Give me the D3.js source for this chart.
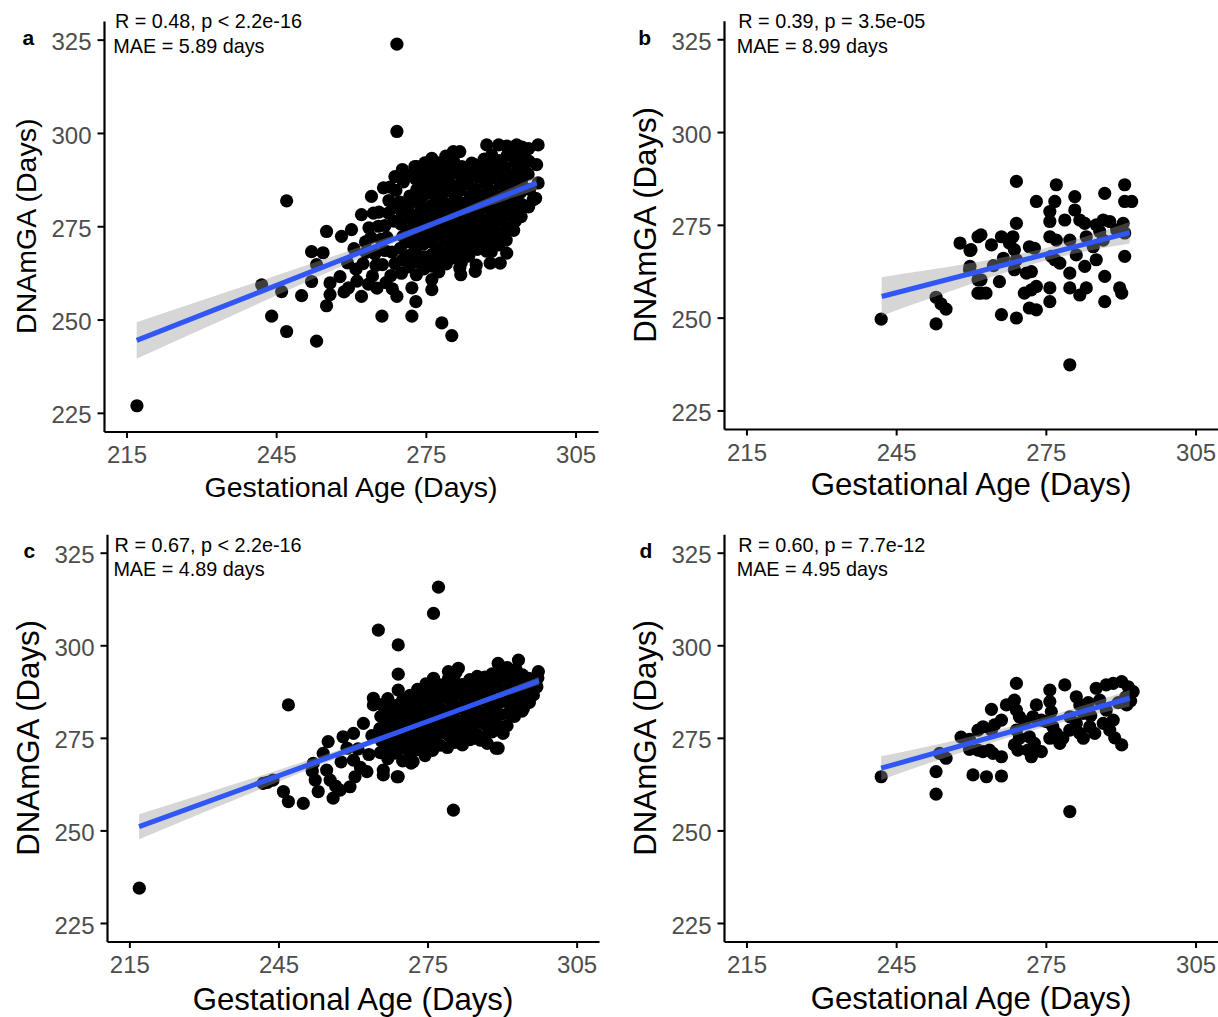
<!DOCTYPE html>
<html>
<head>
<meta charset="utf-8">
<script src="https://cdn.jsdelivr.net/npm/d3@7"></script>
<style>
  html, body { margin: 0; padding: 0; background: #fff; }
  svg { display: block; font-family: "Liberation Sans", Arial, Helvetica, sans-serif; }
</style>
</head>
<body>
<svg id="chart" width="1218" height="1017"></svg>
<script>
// Axis ticks shared by all four panels
const xTicks = [215, 245, 275, 305];
const yTicks = [225, 250, 275, 300, 325];
const xLimits = [215, 305];
const yLimits = [225, 325];

// Correlation / error annotations per panel
const panelLetters = ["a", "b", "c", "d"];
const statLines = [
  ["R = 0.48, p < 2.2e-16", "MAE = 5.89 days"],
  ["R = 0.39, p = 3.5e-05", "MAE = 8.99 days"],
  ["R = 0.67, p < 2.2e-16", "MAE = 4.89 days"],
  ["R = 0.60, p = 7.7e-12", "MAE = 4.95 days"]
];

// Samples: [gestational age, DNAmGA]
const pointsA = [
  [217.1,226.9],[242.1,259.3],[244.1,250.9],[246.1,257.5],[247.1,246.8],[247.1,281.8],
  [250.1,256.4],[252.1,260.2],[252.1,268.2],[253.1,244.2],[253.1,264.7],[254.4,267.9],
  [255.1,253.7],[255.1,273.6],[255.8,259.8],[255.8,256.7],[257.8,261.5],[258.1,272.3],
  [258.6,257.4],[259.3,265.2],[260.1,274.1],[260.6,269.0],[261.2,260.3],[262.1,278.1],
  [262.1,256.2],[262.4,265.0],[262.9,270.8],[263.6,274.6],[264.1,283.0],[264.3,261.7],
  [264.8,267.6],[265.2,258.4],[265.6,278.8],[266.2,250.9],[266.0,271.5],[266.3,264.7],
  [266.5,285.3],[266.8,275.2],[267.6,281.9],[268.0,261.8],[268.2,268.1],[268.3,258.2],
  [268.8,288.3],[268.6,276.4],[269.2,323.8],[269.2,300.4],[269.2,256.2],[269.0,284.6],
  [272.2,250.9],[272.2,258.5],[273.0,254.8],[276.2,260.7],[276.2,258.0],[278.2,249.1],
  [280.2,245.7],[282.0,262.0],[284.9,262.9],[281.8,263.8],[287.9,265.1],[289.9,265.1],
  [291.2,267.8],[287.2,268.3],[292.9,276.3],[296.5,282.1],[297.5,286.6],[287.2,296.8],
  [289.6,296.8],[293.2,296.8],[297.5,296.8],[280.5,295.0],[281.8,295.0],[276.2,293.2],
  [272.8,291.0],[288.2,293.2],[284.2,291.9],[273.2,291.0],
  [263.0,268.0],[264.0,272.0],[265.0,264.5],[265.5,275.0],[266.8,268.5],[267.2,272.0],
  [267.5,278.5],[268.8,265.0],[268.5,280.0],[263.5,259.5],[267.0,259.9],[261.0,263.5],
  [259.5,258.5],[264.5,278.5],[267.8,285.5],
  [270.1,262.4],[270.3,265.9],[269.9,269.1],[270.4,272.3],[270.0,275.6],[270.2,278.7],[269.8,281.5],[270.5,286.9],[270.3,290.2],
  [271.6,264.1],[271.8,267.2],[271.5,270.8],[271.7,273.9],[271.9,277.2],[271.4,280.3],[271.8,283.1],[271.6,288.6],
  [273.1,262.0],[273.3,265.4],[272.9,268.6],[273.2,271.9],[273.0,275.0],[273.4,278.3],[273.1,281.6],[273.2,284.9],[272.9,287.8],
  [274.6,263.6],[274.8,266.8],[274.5,270.2],[274.7,273.5],[274.6,276.7],[274.9,279.9],[274.5,283.2],[274.7,286.3],[274.6,289.4],[274.8,292.0],
  [276.1,264.3],[276.3,267.5],[276.0,270.8],[276.2,274.1],[276.4,277.3],[276.1,280.5],[276.0,283.8],[276.3,287.0],[276.2,290.1],
  [277.6,262.8],[277.8,266.1],[277.5,269.3],[277.7,272.6],[277.9,275.8],[277.6,279.0],[277.4,282.3],[277.8,285.5],[277.7,288.8],[277.5,292.0],
  [279.1,264.9],[279.3,268.0],[279.0,271.3],[279.2,274.6],[279.4,277.8],[279.1,281.0],[278.9,284.3],[279.3,287.5],[279.2,290.6],[279.0,293.8],
  [280.6,266.5],[280.8,269.7],[280.5,273.0],[280.7,276.2],[280.6,279.5],[280.9,282.7],[280.4,285.9],[280.7,289.2],[280.6,292.3],
  [282.1,265.2],[282.3,268.4],[282.0,271.6],[282.2,274.9],[282.4,278.1],[282.1,281.3],[281.9,284.6],[282.3,287.8],[282.2,291.0],
  [283.6,267.0],[283.8,270.2],[283.5,273.4],[283.7,276.7],[283.6,279.9],[283.9,283.1],[283.4,286.4],[283.7,289.6],
  [285.1,264.6],[285.3,268.8],[285.0,272.1],[285.2,275.3],[285.4,278.6],[285.1,281.8],[284.9,285.0],[285.3,288.3],[285.2,291.4],
  [286.6,270.4],[286.8,273.6],[286.5,276.8],[286.7,280.1],[286.6,283.3],[286.9,286.5],[286.4,289.8],[286.7,293.0],
  [288.1,268.2],[288.3,271.5],[288.0,274.7],[288.2,278.0],[288.4,281.2],[288.1,284.4],[287.9,287.7],[288.3,290.9],[288.2,294.1],
  [289.6,270.0],[289.8,273.2],[289.5,276.5],[289.7,279.7],[289.6,282.9],[289.9,286.2],[289.4,289.4],[289.7,292.6],
  [291.1,271.3],[291.3,274.6],[291.0,277.8],[291.2,281.0],[291.4,284.3],[291.1,287.5],[290.9,290.7],[291.3,294.0],[291.2,296.5],
  [292.6,273.9],[292.8,279.2],[292.5,282.4],[292.7,285.7],[292.6,288.9],[292.9,292.1],[292.4,295.3],
  [294.1,277.6],[294.3,280.8],[294.0,284.1],[294.2,287.3],[294.4,290.5],[294.1,293.8],[294.3,296.2],
  [295.6,280.2],[295.8,284.9],[295.5,289.0],[295.7,292.4],[295.6,295.8],
  [297.0,282.5],[297.2,291.5]
];

const pointsB = [
  [242.0,249.6],[253.0,255.5],[254.0,253.7],[255.0,252.3],[253.0,248.3],[257.8,270.1],
  [259.8,268.1],[259.8,263.8],[261.4,271.8],[261.4,260.2],[261.4,256.6],[260.0,268.3],
  [262.0,272.3],[259.7,262.9],[264.1,269.6],[266.1,271.8],[262.0,260.2],[262.0,256.6],
  [263.0,256.6],[265.7,259.7],[266.1,250.8],[269.1,249.9],[269.1,286.7],[269.1,275.4],
  [268.4,271.8],[267.7,270.1],[268.7,268.3],[269.1,265.6],[268.7,262.9],[271.1,262.0],
  [272.1,262.4],[271.7,269.1],[272.7,268.7],[270.7,256.6],[272.1,257.5],[273.1,258.4],
  [271.7,252.6],[273.1,252.1],[273.1,281.3],[275.8,278.6],[275.8,275.9],[275.8,271.8],
  [277.1,270.9],[276.1,266.5],[276.8,265.6],[277.8,264.7],[277.1,285.8],[276.8,281.3],
  [275.8,258.0],[275.8,254.3],[278.8,276.3],[279.8,270.9],[279.8,262.0],[279.8,258.0],
  [280.8,282.6],[280.8,279.0],[281.8,276.3],[282.8,275.4],[281.1,266.9],[282.8,263.8],
  [281.8,256.1],[283.1,258.0],[283.1,271.8],[284.5,269.1],[285.1,265.6],[285.1,275.0],
  [286.5,276.3],[287.8,275.9],[286.8,283.5],[286.8,261.1],[286.8,254.3],[289.8,258.0],
  [290.2,256.6],[290.8,285.8],[290.8,281.3],[292.2,281.3],[290.8,272.8],[290.8,266.5],
  [290.5,275.4],[289.2,273.6],[286.5,270.9],[285.8,273.2],[279.8,237.3],[264.5,264.0],
  [266.5,266.0]
];

const pointsC = [
  [217.0,234.4],[241.9,262.7],[243.9,263.6],[242.8,263.0],[246.0,260.5],[247.0,257.8],
  [250.0,257.3],[247.0,283.9],[252.0,268.1],[252.4,263.6],[253.0,260.5],[251.8,266.0],
  [255.0,274.0],[254.0,270.8],[254.7,266.3],[255.4,263.6],[256.0,258.7],[257.4,260.9],
  [256.5,262.0],[258.0,275.3],[260.1,276.2],[262.1,278.9],[260.1,269.0],[260.4,264.5],
  [259.4,261.8],[262.8,265.9],[257.6,268.5],[258.8,272.2],[261.0,272.0],[263.2,270.5],
  [263.8,275.6],[261.5,267.0],[265.1,304.1],[269.1,300.1],[276.2,308.6],[277.2,315.7],
  [269.1,292.2],[269.1,287.9],[264.1,285.7],[264.1,283.9],[280.2,255.5],[266.1,266.3],
  [269.1,264.5],[272.1,268.6],[272.1,271.7],[268.8,271.3],[289.2,272.2],[290.2,276.2],
  [296.3,286.6],[297.3,292.9],[293.3,296.0],[289.2,295.1],[281.2,293.8],[279.2,292.9],
  [276.2,291.1],[294.3,283.0],[287.0,273.5],[284.0,274.8],[266.1,265.0],[268.9,264.5],
  [271.7,268.2],[288.8,272.2],[285.6,274.4],[282.0,275.3],
  [265.5,271.0],[265.7,274.2],[265.4,277.5],[265.6,280.8],[265.8,284.0],
  [267.0,269.4],[267.2,272.7],[266.9,275.9],[267.1,279.2],[267.3,282.4],[267.0,285.6],
  [268.5,270.9],[268.7,274.1],[268.4,277.4],[268.6,280.6],[268.8,283.8],
  [270.0,268.8],[270.2,272.3],[269.9,275.5],[270.1,278.8],[270.3,282.0],[270.0,285.2],
  [271.5,270.4],[271.7,273.6],[271.4,276.9],[271.6,280.1],[271.8,283.4],[271.5,286.5],
  [273.0,271.8],[273.2,275.1],[272.9,278.3],[273.1,281.6],[273.3,284.8],[273.0,288.1],
  [274.5,270.2],[274.7,273.4],[274.4,276.7],[274.6,279.9],[274.8,283.2],[274.5,286.4],[274.7,289.6],
  [276.0,271.6],[276.2,274.9],[275.9,278.1],[276.1,281.4],[276.3,284.6],[276.0,287.8],
  [277.5,273.0],[277.7,276.3],[277.4,279.5],[277.6,282.8],[277.8,286.0],[277.5,289.3],
  [279.0,272.4],[279.2,275.7],[278.9,278.9],[279.1,282.2],[279.3,285.4],[279.0,288.6],[279.2,291.0],
  [280.5,273.8],[280.7,277.1],[280.4,280.3],[280.6,283.6],[280.8,286.8],[280.5,290.0],[280.7,292.6],
  [282.0,273.1],[282.2,276.4],[281.9,279.6],[282.1,282.9],[282.3,286.1],[282.0,289.4],
  [283.5,274.5],[283.7,277.8],[283.4,281.0],[283.6,284.3],[283.8,287.5],[283.5,290.7],
  [285.0,275.9],[285.2,279.2],[284.9,282.4],[285.1,285.7],[285.3,288.9],[285.0,291.6],
  [286.5,275.2],[286.7,278.5],[286.4,281.7],[286.6,285.0],[286.8,288.2],[286.5,291.4],
  [288.0,276.6],[288.2,279.9],[287.9,283.1],[288.1,286.4],[288.3,289.6],[288.0,292.3],
  [289.5,278.0],[289.7,281.3],[289.4,284.5],[289.6,287.8],[289.8,291.0],[289.5,293.4],
  [291.0,278.3],[291.2,281.6],[290.9,284.8],[291.1,288.1],[291.3,291.3],[291.0,294.0],
  [292.5,280.8],[292.7,284.1],[292.4,287.3],[292.6,290.6],[292.8,293.5],
  [294.0,282.2],[294.2,285.5],[293.9,288.7],[294.1,292.0],
  [295.5,284.6],[295.7,287.9],[295.4,291.1],
  [297.0,288.8],[297.2,291.2]
];

const pointsD = [
  [242.0,264.5],[253.0,265.9],[253.0,259.8],[253.7,270.8],[255.0,269.5],[258.0,275.2],
  [259.7,274.6],[259.7,271.9],[261.4,271.7],[262.4,271.3],[261.4,277.1],[262.4,278.0],
  [264.1,277.1],[264.7,278.5],[264.1,282.7],[266.1,279.8],[263.7,271.7],[264.4,270.8],
  [266.1,269.9],[263.1,264.5],[266.1,264.7],[260.4,265.0],[267.1,283.9],[268.7,285.2],
  [269.1,289.7],[269.1,282.5],[269.7,280.7],[270.7,279.4],[269.1,277.1],[269.7,274.9],
  [268.7,273.1],[269.4,271.7],[271.7,275.3],[272.7,273.5],[271.4,271.7],[273.1,271.7],
  [272.1,269.9],[274.1,271.3],[273.1,283.9],[272.4,280.7],[274.1,279.8],[275.8,287.9],
  [275.8,284.8],[276.1,282.1],[278.8,289.3],[275.1,279.4],[276.4,278.0],[277.1,276.2],
  [275.8,274.9],[278.4,274.9],[277.8,273.5],[281.1,286.1],[281.8,283.9],[282.5,281.6],
  [279.8,280.7],[281.1,278.9],[279.8,277.1],[281.8,276.2],[283.8,278.0],[282.5,274.9],
  [284.8,276.2],[285.1,288.4],[287.1,289.3],[288.5,289.7],[290.2,290.2],[291.5,288.8],
  [292.5,287.5],[285.8,285.2],[287.1,282.5],[288.5,279.8],[286.5,278.9],[287.8,277.1],
  [291.2,283.9],[290.2,273.1],[279.8,255.1],[291.0,286.0],[292.0,285.0],[288.8,275.0],
  [284.0,281.0],[283.5,284.5],[289.5,284.5]
];

// Fitted regression line ends: [[ga0, dna0], [ga1, dna1]]
const fitA = [[217.05, 244.4], [297.2, 286.6]];
const fitB = [[242.1, 255.7], [291.8, 272.9]];
const fitC = [[216.96, 251.0], [297.4, 290.4]];
const fitD = [[242.0, 266.8], [291.8, 285.7]];

// Confidence band half-width around the fit: [ga, half-width in days]
const bandA = [[217.05,4.9],[230,3.9],[245,2.7],[260,1.6],[277,0.8],[287,1.1],[297.2,1.8]];
const bandB = [[242.1,5.2],[250,4.1],[260,2.8],[270,1.9],[275,1.7],[283,2.0],[291.8,2.9]];
const bandC = [[216.96,3.4],[230,2.5],[245,1.6],[260,0.9],[280,0.5],[290,0.8],[297.4,1.05]];
const bandD = [[242.0,3.2],[250,2.4],[260,1.7],[273,1.3],[283,1.6],[291.8,2.2]];

// Panel boxes and label placement
const panels = [
  { points: pointsA, fit: fitA, band: bandA,
    box: { left: 104, right: 598, top: 21, bottom: 431.5 },
    letterPos: [22.5, 45], statPos: [[115, 28.3], [113.3, 52.7]],
    titleSize: 28.5, yTitleX: 36, xTitleY: 497 },
  { points: pointsB, fit: fitB, band: bandB,
    box: { left: 724, right: 1218, top: 20.7, bottom: 429 },
    letterPos: [638.3, 45], statPos: [[738.3, 28.3], [736.7, 52.7]],
    titleSize: 31.2, yTitleX: 656, xTitleY: 495 },
  { points: pointsC, fit: fitC, band: bandC,
    box: { left: 107, right: 599, top: 534.2, bottom: 941.5 },
    letterPos: [23.5, 558.3], statPos: [[114.6, 551.7], [113.4, 576]],
    titleSize: 31.2, yTitleX: 39, xTitleY: 1010 },
  { points: pointsD, fit: fitD, band: bandD,
    box: { left: 724, right: 1218, top: 534.2, bottom: 941.5 },
    letterPos: [639.5, 558.3], statPos: [[738.3, 551.7], [736.7, 576]],
    titleSize: 31.2, yTitleX: 656, xTitleY: 1009 }
];

const svg = d3.select("#chart");
svg.append("rect").attr("width", 1218).attr("height", 1017).attr("fill", "#fff");

// ggplot-style 5% expansion around the fixed limits
function expand(lim) {
  const pad = (lim[1] - lim[0]) * 0.05;
  return [lim[0] - pad, lim[1] + pad];
}

panels.forEach((p, i) => {
  const b = p.box;
  const x = d3.scaleLinear().domain(expand(xLimits)).range([b.left, b.right]);
  const y = d3.scaleLinear().domain(expand(yLimits)).range([b.bottom, b.top]);
  const g = svg.append("g");

  // points
  g.append("g").selectAll("circle").data(p.points).join("circle")
    .attr("cx", d => x(d[0])).attr("cy", d => y(d[1]))
    .attr("r", 6.6).attr("fill", "#000");

  // fitted value along the regression line
  const fitAt = d3.scaleLinear().domain([p.fit[0][0], p.fit[1][0]]).range([p.fit[0][1], p.fit[1][1]]);

  // confidence band
  const area = d3.area()
    .x(d => x(d[0]))
    .y0(d => y(fitAt(d[0]) - d[1]))
    .y1(d => y(fitAt(d[0]) + d[1]))
    .curve(d3.curveMonotoneX);
  g.append("path").datum(p.band).attr("d", area)
    .attr("fill", "#999999").attr("fill-opacity", 0.4);

  // regression line
  g.append("path").datum(p.fit)
    .attr("d", d3.line().x(d => x(d[0])).y(d => y(d[1])))
    .attr("stroke", "#3057F5").attr("stroke-width", 5).attr("fill", "none");

  // axes
  const xAxis = d3.axisBottom(x).tickValues(xTicks).tickSize(6.5).tickSizeOuter(0).tickPadding(8);
  const yAxis = d3.axisLeft(y).tickValues(yTicks).tickSize(6.5).tickSizeOuter(0).tickPadding(6);
  const gx = g.append("g").attr("transform", `translate(0,${b.bottom})`).call(xAxis);
  const gy = g.append("g").attr("transform", `translate(${b.left},0)`).call(yAxis);
  [gx, gy].forEach(ax => {
    ax.select(".domain").attr("stroke", "#000").attr("stroke-width", 2.2);
    ax.selectAll(".tick line").attr("stroke", "#000").attr("stroke-width", 2);
    ax.selectAll(".tick text").attr("fill", "#4D4D4D")
      .style("font-size", "24px")
      .style("font-family", '"Liberation Sans", Arial, sans-serif');
  });
  gy.selectAll(".tick text").attr("dy", "0.42em");

  // axis titles
  g.append("text")
    .attr("x", (b.left + b.right) / 2).attr("y", p.xTitleY)
    .attr("text-anchor", "middle").attr("font-size", p.titleSize).attr("fill", "#000")
    .text("Gestational Age (Days)");
  g.append("text")
    .attr("transform", `translate(${p.yTitleX},${(b.top + b.bottom) / 2}) rotate(-90)`)
    .attr("text-anchor", "middle").attr("font-size", p.titleSize).attr("fill", "#000")
    .text("DNAmGA (Days)");

  // panel letter
  g.append("text").attr("x", p.letterPos[0]).attr("y", p.letterPos[1])
    .attr("font-size", 21).attr("font-weight", "bold").attr("fill", "#000")
    .text(panelLetters[i]);

  // statistics
  statLines[i].forEach((t, k) => {
    g.append("text").attr("x", p.statPos[k][0]).attr("y", p.statPos[k][1])
      .attr("font-size", 19.8).attr("fill", "#000").text(t);
  });
});
</script>
</body>
</html>
